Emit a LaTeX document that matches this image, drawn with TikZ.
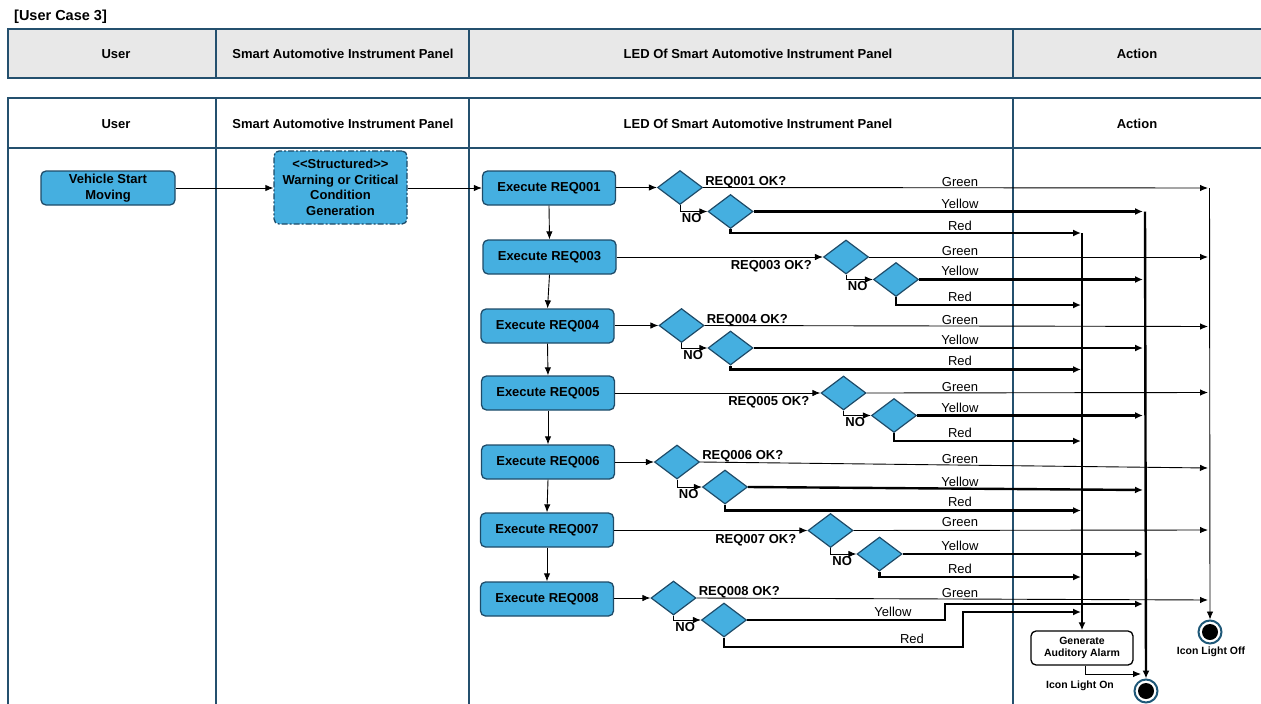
\documentclass[tikz,border=0pt]{standalone}
\usepackage{fontspec}
\setmainfont{Liberation Sans}
\usetikzlibrary{shapes.geometric,arrows.meta,calc}
\definecolor{lanecol}{HTML}{24506E}
\definecolor{headfill}{HTML}{E8E8E8}
\definecolor{actfill}{HTML}{45AFE0}
\definecolor{actedge}{HTML}{1E4B68}
\definecolor{ringcol}{HTML}{1F5878}

\begin{document}
\begin{tikzpicture}[x=1pt,y=-1pt,
  lane/.style={draw=lanecol,line width=1.6pt},
  hdr/.style={font=\fontsize{13}{15}\selectfont\bfseries,inner sep=0pt},
  act/.style={rectangle,rounded corners=5pt,fill=actfill,draw=actedge,line width=1.3pt,
    minimum width=133pt,minimum height=34pt,inner sep=1pt,align=center,
    font=\fontsize{13}{15.5}\selectfont\bfseries},
  dec/.style={diamond,fill=actfill,draw=actedge,line width=1.2pt,
    minimum width=45pt,minimum height=34pt,inner sep=0pt},
  thinarrow/.style={line width=0.9pt,-{Latex[length=8pt,width=6.5pt]}},
  thinline/.style={line width=0.9pt},
  thickarrow/.style={line width=2.4pt,-{Latex[length=8pt,width=7pt]}},
  thickline/.style={line width=2.4pt},
  reqlbl/.style={font=\fontsize{13}{15}\selectfont\bfseries,inner sep=0pt},
  nolbl/.style={font=\fontsize{13}{15}\selectfont\bfseries,inner sep=1.5pt,anchor=north west},
  clbl/.style={font=\fontsize{13}{15}\selectfont,inner sep=0pt,anchor=base},
  smallbold/.style={font=\fontsize{10.5}{12}\selectfont\bfseries,inner sep=0pt},
  endstate/.style={circle,minimum size=23pt,inner sep=0pt,draw=ringcol,line width=2pt,fill=white,
    path picture={\fill[black] (path picture bounding box.center) circle (8pt);}}
]
\useasboundingbox (0,0) rectangle (1261,704);

% ---------- title ----------
\node[font=\fontsize{14.5}{16}\selectfont\bfseries,anchor=west,inner sep=0pt] (title) at (14,17) {[User Case 3]};

% ---------- lane header strip ----------
\fill[headfill] (8,29) rectangle (1261,78);
\draw[lane] (1261,29) -- (8,29) -- (8,78) -- (1261,78);
\foreach \xx in {216,469,1013} \draw[lane] (\xx,29) -- (\xx,78);
\node[hdr] (hA) at (116,54) {User};
\node[hdr] (hB) at (343,54) {Smart Automotive Instrument Panel};
\node[hdr] (hC) at (758,54) {LED Of Smart Automotive Instrument Panel};
\node[hdr] (hD) at (1137,54) {Action};

% ---------- swimlanes ----------
\draw[lane] (1261,98) -- (8,98) -- (8,704);
\draw[lane] (8,148) -- (1261,148);
\foreach \xx in {216,469,1013} \draw[lane] (\xx,98) -- (\xx,704);
\node[hdr] (lA) at (116,124) {User};
\node[hdr] (lB) at (343,124) {Smart Automotive Instrument Panel};
\node[hdr] (lC) at (758,124) {LED Of Smart Automotive Instrument Panel};
\node[hdr] (lD) at (1137,124) {Action};

% ---------- start actions ----------
\node[act,minimum width=134pt] (start) at (108,188) {Vehicle Start\\Moving};
\node[act,minimum height=73pt,dash pattern=on 6pt off 2pt on 2pt off 2pt] (warn) at (340.5,187.5)
  {<\kern0pt<Structured>\kern0pt>\\Warning or Critical\\Condition\\Generation};

% ---------- requirement checks ----------
\node[act] (e1) at (549,188) {Execute REQ001};
\node[act] (e3) at (549.5,257) {Execute REQ003};
\node[act] (e4) at (547.5,326) {Execute REQ004};
\node[act] (e5) at (548,393) {Execute REQ005};
\node[act] (e6) at (548,462) {Execute REQ006};
\node[act] (e7) at (547,530) {Execute REQ007};
\node[act] (e8) at (547,599) {Execute REQ008};

\draw[thinarrow] (start.east) -- (warn.west |- start.east);
\draw[thinarrow] (warn.east |- e1.west) -- (e1.west);
\draw[thinarrow] (e1.south) -- (e3.north);
\draw[thinarrow] (e3.south) -- (e4.north);
\draw[thinarrow] (e4.south) -- (e5.north);
\draw[thinarrow] (e5.south) -- (e6.north);
\draw[thinarrow] (e6.south) -- (e7.north);
\draw[thinarrow] (e7.south) -- (e8.north);

% ---------- decisions ----------
\node[dec] (d1a) at (680,187.5) {};
\node[dec] (d1b) at (730.5,211.5) {};
\node[dec] (d3a) at (846,257) {};
\node[dec] (d3b) at (896,279.5) {};
\node[dec] (d4a) at (681.5,325.5) {};
\node[dec] (d4b) at (730.5,348) {};
\node[dec] (d5a) at (843.5,393) {};
\node[dec] (d5b) at (894,415.5) {};
\node[dec] (d6a) at (677,462) {};
\node[dec] (d6b) at (725,487) {};
\node[dec] (d7a) at (830.5,530.5) {};
\node[dec] (d7b) at (879.5,554) {};
\node[dec] (d8a) at (673.5,598) {};
\node[dec] (d8b) at (724,620) {};

\foreach \r in {1,3,4,5,6,7,8}{
  \draw[thinarrow] (e\r.east |- d\r a.west) -- (d\r a.west);
  \draw[thinarrow] (d\r a.south) |- node[nolbl] (no\r) {NO} (d\r b.west);
}

\node[reqlbl,anchor=base west] (q1) at ($(d1a.east)+(2,-2.5)$) {REQ001 OK?};
\node[reqlbl,anchor=base east] (q3) at ($(d3a.west)+(-11,12.5)$) {REQ003 OK?};
\node[reqlbl,anchor=base west] (q4) at ($(d4a.east)+(2,-2.5)$) {REQ004 OK?};
\node[reqlbl,anchor=base east] (q5) at ($(d5a.west)+(-11,12.5)$) {REQ005 OK?};
\node[reqlbl,anchor=base west] (q6) at ($(d6a.east)+(2,-3)$) {REQ006 OK?};
\node[reqlbl,anchor=base east] (q7) at ($(d7a.west)+(-11,12.5)$) {REQ007 OK?};
\node[reqlbl,anchor=base west] (q8) at ($(d8a.east)+(2,-2.5)$) {REQ008 OK?};

% ---------- collector end points ----------
\coordinate (g1) at (1208,188);   \coordinate (y1) at (1143,211.5); \coordinate (r1) at (1081,233);
\coordinate (g3) at (1208,257);   \coordinate (y3) at (1143,279.5); \coordinate (r3) at (1081,305);
\coordinate (g4) at (1208,326.5); \coordinate (y4) at (1143,348);   \coordinate (r4) at (1081,369.5);
\coordinate (g5) at (1208,392.5); \coordinate (y5) at (1143,415.5); \coordinate (r5) at (1081,441);
\coordinate (g6) at (1208,468);   \coordinate (y6) at (1143,490);   \coordinate (r6) at (1081,510.5);
\coordinate (g7) at (1208,530);   \coordinate (y7) at (1143,554);   \coordinate (r7) at (1081,577);
\coordinate (g8) at (1208,600);   \coordinate (y8) at (1143,604);   \coordinate (r8) at (1081,612);

% green / yellow / red branches
\foreach \r in {1,3,4,5,6,7}{
  \draw[thinarrow] (d\r a.east) -- (g\r);
  \draw[thickarrow] (d\r b.east) -- (y\r);
  \draw[thickarrow] (d\r b.south) |- (r\r);
}
\draw[thinarrow] (d8a.east) -- (g8);
\draw[thickarrow] (d8b.east) -| (945,604) -- (y8);
\draw[thickarrow] (d8b.south) |- (963,647) |- (r8);

% colour labels
\node[clbl] (cg1) at (960,186.5) {Green};  \node[clbl] (cy1) at (960,208.7) {Yellow}; \node[clbl] (cr1) at (960,230.7) {Red};
\node[clbl] (cg3) at (960,255.5) {Green};  \node[clbl] (cy3) at (960,275.7) {Yellow}; \node[clbl] (cr3) at (960,301.7) {Red};
\node[clbl] (cg4) at (960,324) {Green};    \node[clbl] (cy4) at (960,344.7) {Yellow}; \node[clbl] (cr4) at (960,365.7) {Red};
\node[clbl] (cg5) at (960,391.5) {Green};  \node[clbl] (cy5) at (960,412.7) {Yellow}; \node[clbl] (cr5) at (960,437.7) {Red};
\node[clbl] (cg6) at (960,463.7) {Green};  \node[clbl] (cy6) at (960,486.7) {Yellow}; \node[clbl] (cr6) at (960,506.7) {Red};
\node[clbl] (cg7) at (960,526.7) {Green};  \node[clbl] (cy7) at (960,550.7) {Yellow}; \node[clbl] (cr7) at (960,573.7) {Red};
\node[clbl] (cg8) at (960,597.7) {Green};  \node[clbl] (cy8) at (893,616.7) {Yellow}; \node[clbl] (cr8) at (912,643.7) {Red};

% ---------- actions ----------
\node[rectangle,rounded corners=5pt,draw=black,fill=white,line width=1.3pt,minimum width=102pt,
  minimum height=34pt,align=center,smallbold] (alarm) at (1082,648) {Generate\\Auditory Alarm};
\node[endstate] (on) at (1146,691) {};
\node[endstate] (off) at (1210,632) {};
\node[smallbold] (onlbl) at (1080,686) {Icon Light On};
\node[smallbold] (offlbl) at (1211,652) {Icon Light Off};

\coordinate (rtop) at (1082,233);
\coordinate (ytop) at (1145,211.5);
\coordinate (gtop) at (1209.5,188);
\coordinate (aon) at (1141,674);
\draw[thickarrow] (rtop) -- (alarm.north);
\draw[thickarrow] (ytop) -- (on.north);
\draw[thinarrow] (gtop) -- (off.north);
\draw[thinarrow] ($(alarm.south)+(3,0)$) |- (aon);

\end{tikzpicture}
\end{document}
